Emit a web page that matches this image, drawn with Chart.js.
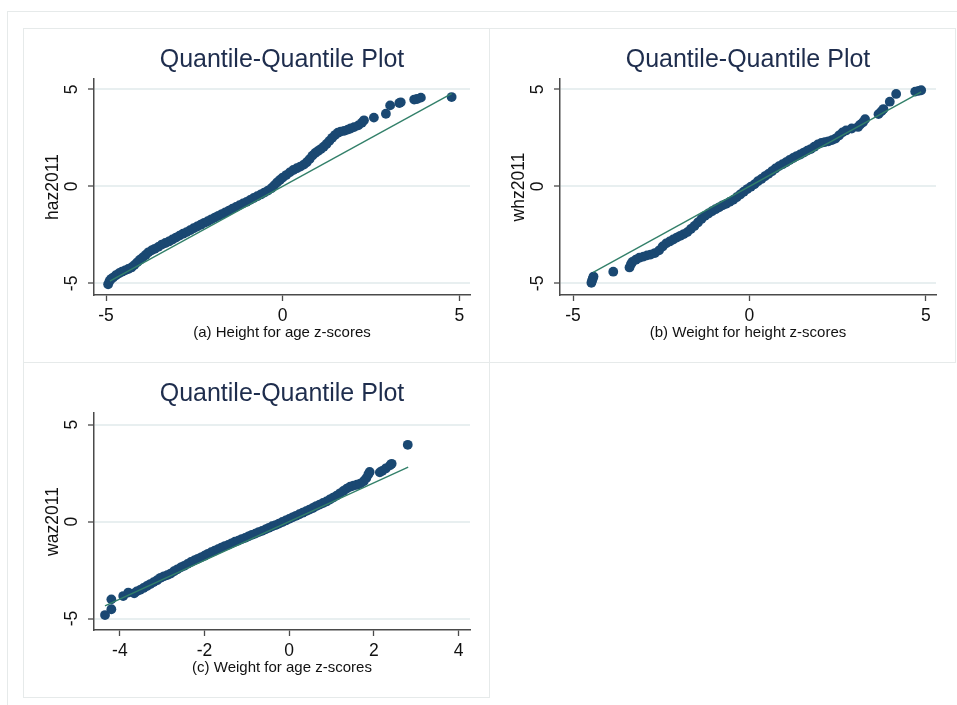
<!DOCTYPE html>
<html>
<head>
<meta charset="utf-8">
<script src="https://cdn.jsdelivr.net/npm/chart.js@4.4.1/dist/chart.umd.min.js"></script>
<style>
  body { margin: 0; background: #fff; }
  .frame { position: absolute; border: 1px solid #e6eaea; box-sizing: border-box; }
  canvas { position: absolute; }
</style>
</head>
<body>
<div class="frame" style="left:7px;top:11px;width:970px;height:720px;"></div>
<div class="frame" style="left:23px;top:28px;width:467px;height:335px;"></div>
<div class="frame" style="left:489px;top:28px;width:467px;height:335px;"></div>
<div class="frame" style="left:23px;top:362px;width:467px;height:336px;"></div>
<canvas id="haz" width="466" height="334" style="left:23px;top:28px;"></canvas>
<canvas id="whz" width="466" height="334" style="left:489px;top:28px;"></canvas>
<canvas id="waz" width="466" height="335" style="left:23px;top:362px;"></canvas>
<script>
// Panel (a): inverse normal vs haz2011
const hazX = [-4.94, -4.90, -4.86, -4.80, -4.72, -4.63, -4.55, -4.46, -4.37, -4.28,
  -4.20, -4.12, -4.04, -3.96, -3.88, -3.80, -3.71, -3.62, -3.52, -3.42,
  -3.32, -3.22, -3.12, -3.02, -2.92, -2.82, -2.72, -2.62, -2.52, -2.42,
  -2.32, -2.22, -2.12, -2.02, -1.92, -1.82, -1.72, -1.62, -1.52, -1.42,
  -1.32, -1.22, -1.12, -1.02, -0.92, -0.82, -0.72, -0.62, -0.52, -0.42,
  -0.32, -0.24, -0.16, -0.08, 0.00, 0.10, 0.20, 0.30, 0.40, 0.50,
  0.60, 0.68, 0.76, 0.84, 0.92, 1.00, 1.08, 1.16, 1.24, 1.32,
  1.40, 1.48, 1.56, 1.64, 1.74, 1.84, 1.92, 2.02, 2.14, 2.24,
  2.30, 2.58, 2.92, 3.04, 3.30, 3.34, 3.72, 3.80, 3.91, 4.78];
const hazY = [-5.05, -4.88, -4.78, -4.70, -4.58, -4.48, -4.40, -4.33, -4.26, -4.18,
  -4.06, -3.92, -3.78, -3.66, -3.54, -3.40, -3.30, -3.22, -3.12, -3.00,
  -2.92, -2.84, -2.74, -2.64, -2.54, -2.44, -2.36, -2.26, -2.16, -2.07,
  -1.98, -1.88, -1.80, -1.70, -1.61, -1.52, -1.43, -1.34, -1.25, -1.15,
  -1.06, -0.97, -0.88, -0.80, -0.70, -0.60, -0.51, -0.42, -0.32, -0.22,
  -0.10, 0.05, 0.20, 0.33, 0.45, 0.58, 0.72, 0.84, 0.93, 1.02,
  1.12, 1.24, 1.40, 1.58, 1.72, 1.82, 1.92, 2.04, 2.18, 2.34,
  2.50, 2.64, 2.76, 2.82, 2.86, 2.92, 2.98, 3.05, 3.14, 3.28,
  3.40, 3.54, 3.74, 4.17, 4.29, 4.33, 4.47, 4.50, 4.57, 4.60];
const hazLine = [-4.89, 4.78];

// Panel (b): inverse normal vs whz2011
const whzX = [-4.48, -4.46, -4.44, -4.42, -3.86, -3.40, -3.36, -3.32, -3.22, -3.12,
  -3.00, -2.90, -2.80, -2.68, -2.56, -2.46, -2.36, -2.26, -2.16, -2.06,
  -1.96, -1.86, -1.76, -1.66, -1.56, -1.46, -1.36, -1.26, -1.16, -1.06,
  -0.96, -0.86, -0.76, -0.66, -0.56, -0.46, -0.36, -0.26, -0.16, -0.06,
  0.04, 0.14, 0.24, 0.34, 0.44, 0.54, 0.64, 0.74, 0.84, 0.94,
  1.04, 1.14, 1.24, 1.34, 1.44, 1.54, 1.64, 1.74, 1.84, 1.94,
  2.04, 2.14, 2.24, 2.34, 2.44, 2.54, 2.64, 2.74, 2.90, 3.08,
  3.14, 3.22, 3.28, 3.66, 3.74, 3.80, 3.98, 4.16, 4.70, 4.80, 4.87];
const whzY = [-4.97, -4.85, -4.75, -4.65, -4.40, -4.18, -4.02, -3.90, -3.78, -3.68,
  -3.62, -3.56, -3.52, -3.44, -3.30, -3.10, -2.94, -2.84, -2.74, -2.64,
  -2.55, -2.46, -2.36, -2.20, -2.04, -1.86, -1.68, -1.52, -1.40, -1.28,
  -1.18, -1.08, -0.98, -0.90, -0.80, -0.70, -0.56, -0.42, -0.28, -0.14,
  -0.02, 0.10, 0.26, 0.38, 0.52, 0.64, 0.78, 0.92, 1.04, 1.14,
  1.24, 1.36, 1.46, 1.56, 1.64, 1.74, 1.84, 1.92, 2.04, 2.16,
  2.24, 2.28, 2.32, 2.38, 2.46, 2.62, 2.78, 2.88, 2.98, 3.06,
  3.18, 3.30, 3.46, 3.72, 3.86, 3.98, 4.36, 4.76, 4.88, 4.92, 4.95];
const whzLine = [-4.43, 4.87];

// Panel (c): inverse normal vs waz2011
const wazX = [-4.35, -4.20, -4.20, -3.92, -3.80, -3.66, -3.60, -3.52, -3.44, -3.36,
  -3.28, -3.20, -3.12, -3.04, -2.96, -2.88, -2.80, -2.72, -2.64, -2.56,
  -2.48, -2.40, -2.32, -2.24, -2.16, -2.08, -2.00, -1.92, -1.84, -1.76,
  -1.68, -1.60, -1.52, -1.44, -1.36, -1.28, -1.20, -1.12, -1.04, -0.96,
  -0.88, -0.80, -0.72, -0.64, -0.56, -0.48, -0.40, -0.32, -0.24, -0.16,
  -0.08, 0.00, 0.08, 0.16, 0.24, 0.32, 0.40, 0.48, 0.56, 0.64,
  0.72, 0.80, 0.88, 0.96, 1.04, 1.12, 1.20, 1.28, 1.36, 1.44,
  1.52, 1.60, 1.68, 1.76, 1.82, 1.87, 1.90, 2.14, 2.20, 2.28,
  2.38, 2.42, 2.80];
const wazY = [-4.82, -4.52, -4.01, -3.84, -3.66, -3.70, -3.60, -3.52, -3.42, -3.32,
  -3.22, -3.12, -3.02, -2.90, -2.82, -2.76, -2.68, -2.56, -2.46, -2.36,
  -2.28, -2.18, -2.08, -2.00, -1.92, -1.84, -1.76, -1.66, -1.58, -1.50,
  -1.42, -1.34, -1.26, -1.20, -1.12, -1.04, -0.98, -0.90, -0.84, -0.76,
  -0.68, -0.62, -0.54, -0.48, -0.40, -0.32, -0.24, -0.18, -0.10, -0.02,
  0.06, 0.14, 0.22, 0.30, 0.38, 0.46, 0.54, 0.62, 0.70, 0.80,
  0.88, 0.96, 1.04, 1.14, 1.24, 1.34, 1.46, 1.58, 1.70, 1.80,
  1.86, 1.90, 1.96, 2.08, 2.24, 2.44, 2.56, 2.54, 2.62, 2.74,
  2.90, 2.98, 3.96];
const wazLine = [-4.35, 2.81];

// Tick labels
const xTicksAB = [-5, 0, 5];
const xTicksC = [-4, -2, 0, 2, 4];
const yTicks = [-5, 0, 5];

const FONT = "'Liberation Sans', Arial, sans-serif";
const MARKER = '#1a4872';
const FITLINE = '#33806a';
const INK = '#111';

Chart.defaults.font.family = FONT;

// Draws the panel title centred over the plot region
const panelTitlePlugin = {
  id: 'panelTitle',
  afterDraw(chart) {
    const { ctx, chartArea } = chart;
    const opts = chart.config.options.plugins.panelTitle;
    ctx.save();
    ctx.font = `${opts.fontSize}px ${FONT}`;
    ctx.fillStyle = opts.color;
    ctx.textAlign = 'center';
    ctx.textBaseline = 'middle';
    ctx.fillText(opts.text, (chartArea.left + chartArea.right) / 2, opts.y);
    ctx.restore();
  }
};

Chart.register(panelTitlePlugin);

function qqChart(id, xs, ys, lineEnds, xTicks, xRange, yRange, xTitle, yTitle) {
  const points = xs.map((x, i) => ({ x: x, y: ys[i] }));
  const fit = lineEnds.map(v => ({ x: v, y: v }));

  return new Chart(document.getElementById(id), {
    type: 'scatter',
    data: {
      datasets: [
        {
          type: 'line',
          data: fit,
          borderColor: FITLINE,
          borderWidth: 1.4,
          pointRadius: 0,
          fill: false
        },
        {
          data: points,
          backgroundColor: MARKER,
          borderColor: MARKER,
          borderWidth: 0,
          pointRadius: 4.9,
          pointHoverRadius: 4.9
        }
      ]
    },
    options: {
      responsive: false,
      animation: false,
      layout: { padding: { top: 51, right: 19, left: 0, bottom: 0 } },
      plugins: {
        legend: { display: false },
        tooltip: { enabled: false },
        panelTitle: { text: 'Quantile-Quantile Plot', fontSize: 25, color: '#1e2d4d', y: 32.5 }
      },
      scales: {
        x: {
          type: 'linear',
          min: xRange[0],
          max: xRange[1],
          afterBuildTicks: s => { s.ticks = xTicks.map(v => ({ value: v })); },
          afterFit: s => { s.height = 67; },
          border: { color: '#4a4a4a', width: 1.5 },
          grid: { drawOnChartArea: false, drawTicks: true, tickLength: 6, tickColor: '#4a4a4a', tickWidth: 1.3 },
          ticks: { color: INK, font: { size: 17.5 }, padding: 4.5, maxRotation: 0 },
          title: { display: true, text: xTitle, color: INK, font: { size: 15 }, padding: { top: 0, bottom: 20.5 } }
        },
        y: {
          type: 'linear',
          min: yRange[0],
          max: yRange[1],
          afterBuildTicks: s => { s.ticks = yTicks.map(v => ({ value: v })); },
          afterFit: s => { s.width = 71; },
          border: { color: '#4a4a4a', width: 1.5 },
          grid: { color: '#e8eff0', lineWidth: 2, drawTicks: true, tickLength: 6, tickColor: '#4a4a4a', tickWidth: 1.3 },
          ticks: { color: INK, font: { size: 17.5 }, padding: 8.5, minRotation: 90, maxRotation: 90, crossAlign: 'center' },
          title: { display: true, text: yTitle, color: INK, font: { size: 17.5 }, padding: { top: 19.5, bottom: 0 } }
        }
      }
    }
  });
}

qqChart('haz', hazX, hazY, hazLine, xTicksAB, [-5.34, 5.30], [-5.60, 5.53], '(a) Height for age z-scores', 'haz2011');
qqChart('whz', whzX, whzY, whzLine, xTicksAB, [-5.37, 5.29], [-5.60, 5.53], '(b) Weight for height z-scores', 'whz2011');
qqChart('waz', wazX, wazY, wazLine, xTicksC, [-4.61, 4.27], [-5.59, 5.60], '(c) Weight for age z-scores', 'waz2011');
</script>
</body>
</html>
